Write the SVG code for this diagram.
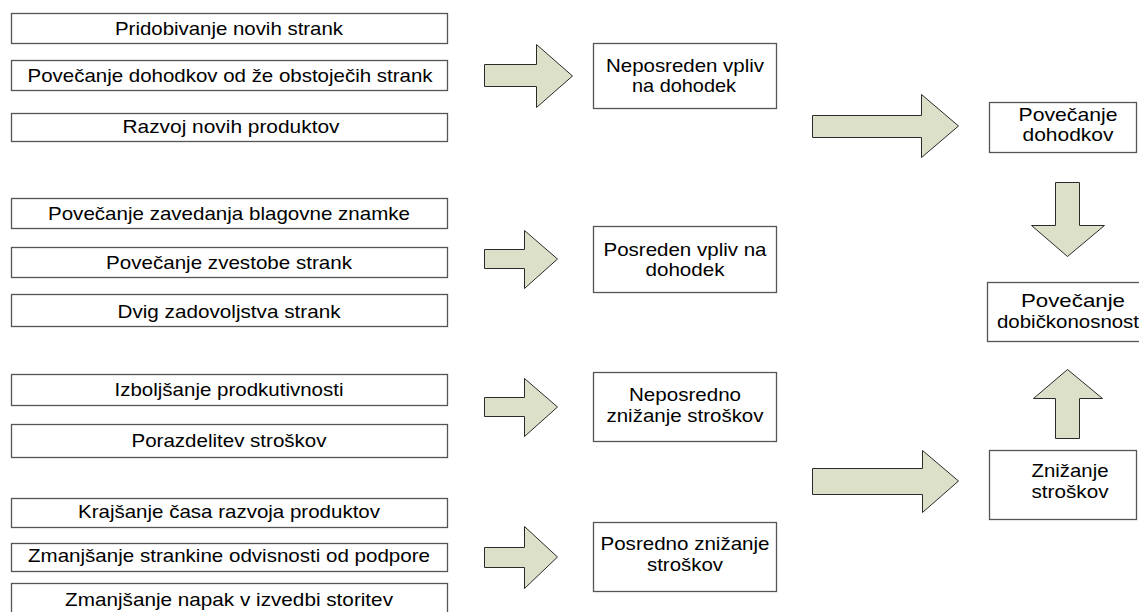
<svg xmlns="http://www.w3.org/2000/svg" width="1139" height="612" viewBox="0 0 1139 612">
<style>
.box{fill:#ffffff;stroke:#555555;stroke-width:1.3}
.t{font-family:"Liberation Sans",Arial,sans-serif;font-size:18.5px;fill:#000000;text-anchor:middle}
.ts{font-family:"Liberation Sans",Arial,sans-serif;font-size:18.5px;fill:#000000;text-anchor:start}
.arr{fill:#dde0c9;stroke:#2a2a2a;stroke-width:1;stroke-linejoin:miter}
</style>
<rect x="0" y="0" width="1139" height="612" fill="#ffffff"/>
<g id="connectors">
<polygon class="arr" points="484.5,64.5 536.5,64.5 536.5,44.5 572.5,76 536.5,107.5 536.5,86.5 484.5,86.5"/>
<polygon class="arr" points="484.5,249.5 524.5,249.5 524.5,230.5 557.5,259 524.5,288.5 524.5,268.5 484.5,268.5"/>
<polygon class="arr" points="484.5,397.5 524.5,397.5 524.5,378.5 557.5,407 524.5,436.5 524.5,416.5 484.5,416.5"/>
<polygon class="arr" points="484.5,547.5 524.5,547.5 524.5,526.5 557.5,557 524.5,588.5 524.5,567.5 484.5,567.5"/>
<polygon class="arr" points="812.5,115.5 921.5,115.5 921.5,94.5 958.5,126 921.5,157.5 921.5,137.5 812.5,137.5"/>
<polygon class="arr" points="812.5,468.5 922.5,468.5 922.5,450.5 958.5,481 922.5,512.5 922.5,494.5 812.5,494.5"/>
<polygon class="arr" points="1055.5,182.5 1079.5,182.5 1079.5,225.5 1104.5,225.5 1067.5,256.5 1031.5,225.5 1055.5,225.5"/>
<polygon class="arr" points="1067.5,369.5 1102.5,398.5 1079.5,398.5 1079.5,438.5 1055.5,438.5 1055.5,398.5 1033.5,398.5"/>
</g>
<g id="n1"><rect class="box" x="11.5" y="13.5" width="436" height="30"/><text class="t" x="229" y="35" textLength="228" lengthAdjust="spacingAndGlyphs">Pridobivanje novih strank</text></g>
<g id="n2"><rect class="box" x="11.5" y="60.5" width="436" height="30"/><text class="t" x="230" y="82" textLength="405" lengthAdjust="spacingAndGlyphs">Povečanje dohodkov od že obstoječih strank</text></g>
<g id="n3"><rect class="box" x="11.5" y="113.5" width="436" height="28"/><text class="t" x="231" y="133" textLength="217" lengthAdjust="spacingAndGlyphs">Razvoj novih produktov</text></g>
<g id="n4"><rect class="box" x="11.5" y="198.5" width="436" height="30"/><text class="t" x="229" y="220" textLength="362" lengthAdjust="spacingAndGlyphs">Povečanje zavedanja blagovne znamke</text></g>
<g id="n5"><rect class="box" x="11.5" y="247.5" width="436" height="30"/><text class="t" x="229" y="269" textLength="246" lengthAdjust="spacingAndGlyphs">Povečanje zvestobe strank</text></g>
<g id="n6"><rect class="box" x="11.5" y="294.5" width="436" height="32"/><text class="t" x="229" y="318" textLength="223" lengthAdjust="spacingAndGlyphs">Dvig zadovoljstva strank</text></g>
<g id="n7"><rect class="box" x="11.5" y="374.5" width="436" height="31"/><text class="t" x="229" y="396" textLength="229" lengthAdjust="spacingAndGlyphs">Izboljšanje prodkutivnosti</text></g>
<g id="n8"><rect class="box" x="11.5" y="424.5" width="436" height="33"/><text class="t" x="229" y="447" textLength="195" lengthAdjust="spacingAndGlyphs">Porazdelitev stroškov</text></g>
<g id="n9"><rect class="box" x="11.5" y="498.5" width="436" height="29"/><text class="t" x="229" y="518" textLength="302" lengthAdjust="spacingAndGlyphs">Krajšanje časa razvoja produktov</text></g>
<g id="n10"><rect class="box" x="11.5" y="543.5" width="436" height="28"/><text class="t" x="229" y="562" textLength="402" lengthAdjust="spacingAndGlyphs">Zmanjšanje strankine odvisnosti od podpore</text></g>
<g id="n11"><rect class="box" x="11.5" y="583.5" width="436" height="32"/><text class="t" x="229" y="606" textLength="328" lengthAdjust="spacingAndGlyphs">Zmanjšanje napak v izvedbi storitev</text></g>
<g id="m1"><rect class="box" x="593.5" y="43.5" width="183" height="65"/><text class="t" x="685" y="72" textLength="158" lengthAdjust="spacingAndGlyphs">Neposreden vpliv</text><text class="t" x="684" y="92" textLength="104" lengthAdjust="spacingAndGlyphs">na dohodek</text></g>
<g id="m2"><rect class="box" x="593.5" y="226.5" width="183" height="66"/><text class="t" x="685" y="256" textLength="163" lengthAdjust="spacingAndGlyphs">Posreden vpliv na</text><text class="t" x="685" y="276" textLength="79" lengthAdjust="spacingAndGlyphs">dohodek</text></g>
<g id="m3"><rect class="box" x="593.5" y="372.5" width="183" height="69"/><text class="t" x="685" y="401" textLength="112" lengthAdjust="spacingAndGlyphs">Neposredno</text><text class="t" x="685" y="422" textLength="157" lengthAdjust="spacingAndGlyphs">znižanje stroškov</text></g>
<g id="m4"><rect class="box" x="593.5" y="522.5" width="183" height="69"/><text class="t" x="685" y="550" textLength="169" lengthAdjust="spacingAndGlyphs">Posredno znižanje</text><text class="t" x="685" y="571" textLength="76" lengthAdjust="spacingAndGlyphs">stroškov</text></g>
<g id="r1"><rect class="box" x="989.5" y="102.5" width="147" height="50"/><text class="t" x="1068" y="121" textLength="99" lengthAdjust="spacingAndGlyphs">Povečanje</text><text class="t" x="1068" y="141" textLength="91" lengthAdjust="spacingAndGlyphs">dohodkov</text></g>
<g id="r2"><rect class="box" x="987.5" y="282.5" width="170" height="59"/><text class="t" x="1073" y="307" textLength="104" lengthAdjust="spacingAndGlyphs">Povečanje</text><text class="ts" x="997" y="328" textLength="142" lengthAdjust="spacingAndGlyphs">dobičkonosnost</text></g>
<g id="r3"><rect class="box" x="989.5" y="450.5" width="147" height="69"/><text class="t" x="1070" y="477" textLength="77" lengthAdjust="spacingAndGlyphs">Znižanje</text><text class="t" x="1070" y="498" textLength="77" lengthAdjust="spacingAndGlyphs">stroškov</text></g>
</svg>
